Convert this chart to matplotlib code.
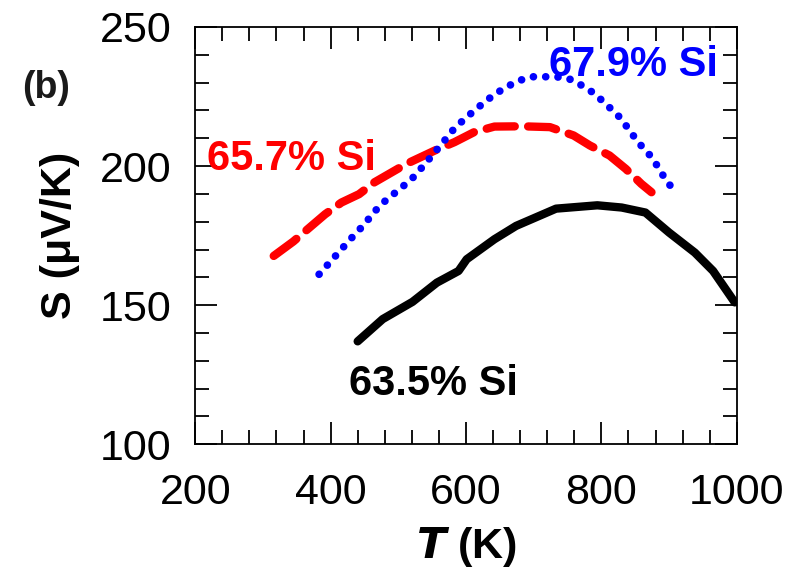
import matplotlib.pyplot as plt
from matplotlib.ticker import MultipleLocator

plt.rcParams['font.family'] = ['Liberation Sans', 'DejaVu Sans']

# 63.5% Si (solid black)
T_635 = [440, 477, 521, 557, 589, 601, 642, 674, 733, 794, 830, 865, 900, 938, 965, 997]
S_635 = [137.0, 145.0, 151.2, 158.1, 162.3, 166.5, 173.7, 178.5, 184.7, 185.9, 185.1, 183.3, 176.1, 168.9, 162.3, 151.0]

# 65.7% Si (red dashed)
T_657 = [316, 345, 366, 392, 416, 442, 465, 512, 554, 583, 612, 642, 683, 724, 759, 783, 812, 836, 859, 874]
S_657 = [167.7, 172.9, 177.3, 182.7, 186.9, 189.9, 194.2, 200.8, 205.6, 208.6, 212.2, 214.2, 214.3, 214.0, 211.0, 207.4, 203.8, 199.0, 193.6, 190.6]

# 67.9% Si (blue dotted)
T_679 = [383, 400, 416, 433, 450, 465, 482, 501, 520, 536, 552, 567, 583, 601, 620, 640, 658, 677,
         696, 715, 733, 752, 771, 789, 808, 826, 840, 854, 870, 884, 895, 909]
S_679 = [161.1, 165.7, 170.1, 174.7, 179.1, 183.7, 187.8, 191.5, 195.4, 199.8, 204.4, 208.8, 213.6, 217.6, 221.5, 225.4, 228.2, 230.6,
         232.1, 232.1, 232.1, 231.4, 229.0, 226.2, 222.0, 217.8, 213.4, 208.6, 204.4, 199.6, 195.0, 190.8]

fig = plt.figure(figsize=(8, 5.74), dpi=100)
ax = fig.add_axes([0.244, 0.226, 0.677, 0.727])

ax.plot(T_635, S_635, color='black', lw=6, solid_capstyle='round', solid_joinstyle='round')
ax.plot(T_657, S_657, color='#ff0000', lw=6, dashes=(3.4, 1.6), dash_capstyle='round')
ax.plot(T_679, S_679, color='#0000ff', lw=5.5, dashes=(0.01, 1.6), dash_capstyle='round')

ax.text(848, 238, '67.9% Si', color='#0000ff', fontsize=30, fontweight='bold', ha='center', va='center_baseline')
ax.text(342, 204, '65.7% Si', color='#ff0000', fontsize=30, fontweight='bold', ha='center', va='center_baseline')
ax.text(552, 123.4, '63.5% Si', color='black', fontsize=30, fontweight='bold', ha='center', va='center_baseline')

ax.set_xlim(200, 1000)
ax.set_ylim(100, 250)
ax.xaxis.set_major_locator(MultipleLocator(200))
ax.xaxis.set_minor_locator(MultipleLocator(40))
ax.yaxis.set_major_locator(MultipleLocator(50))
ax.yaxis.set_minor_locator(MultipleLocator(10))
ax.tick_params(which='both', direction='in', top=True, right=True, width=1.3, labelsize=31)
ax.tick_params(which='major', length=16)
ax.tick_params(which='minor', length=10)
ax.tick_params(axis='x', pad=21)
ax.tick_params(axis='y', pad=17)
for sp in ax.spines.values():
    sp.set_linewidth(1.3)

ax.set_xlabel(r'$\boldsymbol{T}$ (K)', fontsize=31, fontweight='bold', labelpad=8)
ax.set_ylabel('S (\u03bcV/K)', fontsize=31, fontweight='bold', labelpad=14)
fig.text(0.028, 0.83, '(b)', fontsize=27, fontweight='bold', color='#1a1a1a')

fig.savefig('out.png', dpi=100)
